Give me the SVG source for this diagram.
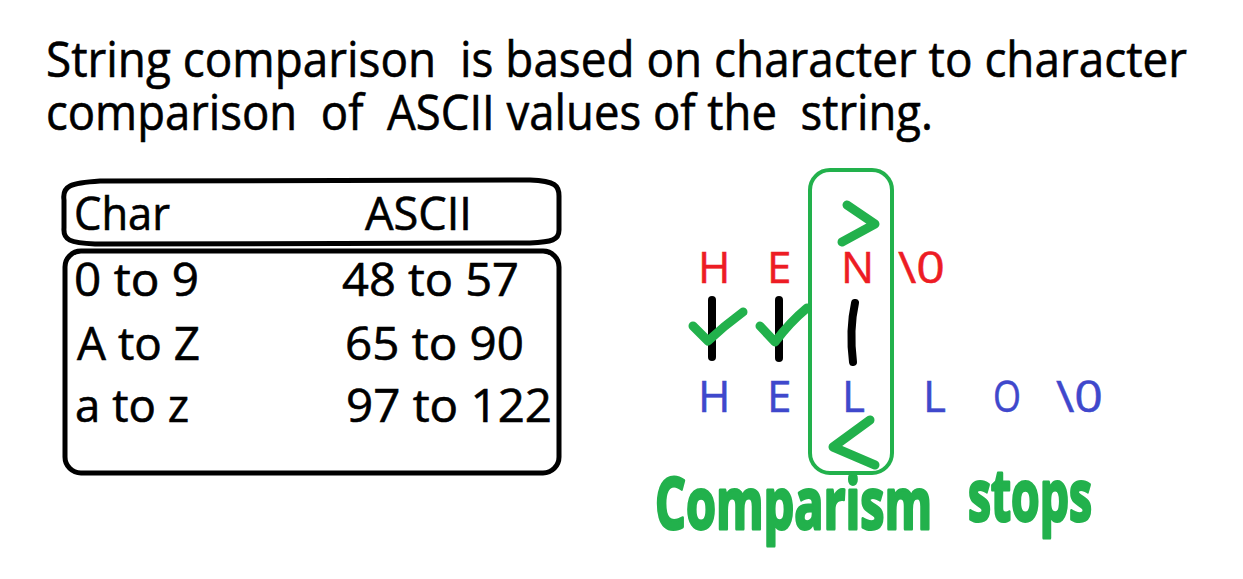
<svg xmlns="http://www.w3.org/2000/svg" width="1243" height="579" viewBox="0 0 1243 579">
  <style>
    .t { font-family: "Open Sans", "Liberation Sans", sans-serif; fill: #000; stroke: #000; stroke-width: 0.6; }
    .title { font-size: 49px; }
    .cell { font-size: 45px; }
    .ch { font-family: "Open Sans", "Liberation Sans", sans-serif; font-size: 44px; stroke-width: 0.5; }
    .red { fill: #ed1c24; stroke: #ed1c24; }
    .blue { fill: #3f48cc; stroke: #3f48cc; }
    .box { fill: none; stroke: #000; stroke-width: 5; stroke-linejoin: round; }
    .bar { fill: none; stroke: #000; stroke-width: 8; stroke-linecap: round; }
    .pen { fill: none; stroke: #22b14c; stroke-width: 9; stroke-linecap: round; stroke-linejoin: round; }
    .hand { font-family: "Open Sans", "Liberation Sans", sans-serif; font-weight: 700; font-size: 72px; fill: #22b14c; stroke: #22b14c; stroke-width: 3; stroke-linejoin: round; }
  </style>
  <rect width="1243" height="579" fill="#fff"/>

  <g id="title">
    <text class="t title" x="46" y="77" textLength="1141" lengthAdjust="spacingAndGlyphs" xml:space="preserve">String comparison  is based on character to character</text>
    <text class="t title" x="46" y="130" textLength="887" lengthAdjust="spacingAndGlyphs" xml:space="preserve">comparison  of  ASCII values of the  string.</text>
  </g>

  <g id="table-header">
    <path class="box" d="M 64 200 C 62 186 70 183 100 181 L 530 180 C 556 181 559 186 559 196 L 559 230 C 559 240 552 242 530 243 L 95 244 C 70 243 63 240 64 228 Z"/>
    <text class="t cell" x="74" y="230" textLength="96" lengthAdjust="spacingAndGlyphs">Char</text>
    <text class="t cell" x="365" y="230" textLength="107" lengthAdjust="spacingAndGlyphs">ASCII</text>
  </g>

  <g id="table-body">
    <rect class="box" x="65" y="251" width="494" height="222" rx="16"/>
    <text class="t cell" x="74" y="296" textLength="125" lengthAdjust="spacingAndGlyphs">0 to 9</text>
    <text class="t cell" x="77" y="360" textLength="123" lengthAdjust="spacingAndGlyphs">A to Z</text>
    <text class="t cell" x="75" y="422" textLength="114" lengthAdjust="spacingAndGlyphs">a to z</text>
    <text class="t cell" x="342" y="296" textLength="177" lengthAdjust="spacingAndGlyphs">48 to 57</text>
    <text class="t cell" x="345" y="360" textLength="179" lengthAdjust="spacingAndGlyphs">65 to 90</text>
    <text class="t cell" x="346" y="422" textLength="206" lengthAdjust="spacingAndGlyphs">97 to 122</text>
  </g>

  <g id="string-hen">
    <text class="ch red" x="698" y="283">H</text>
    <text class="ch red" x="767" y="283">E</text>
    <text class="ch red" x="841" y="283">N</text>
    <text class="ch red" x="898" y="283" textLength="47" lengthAdjust="spacingAndGlyphs">\0</text>
  </g>

  <g id="string-hello">
    <text class="ch blue" x="698" y="412">H</text>
    <text class="ch blue" x="767" y="412">E</text>
    <text class="ch blue" x="842" y="412">L</text>
    <text class="ch blue" x="923" y="412">L</text>
    <text class="ch blue" x="993" y="412" textLength="28" lengthAdjust="spacingAndGlyphs">O</text>
    <text class="ch blue" x="1056" y="412" textLength="47" lengthAdjust="spacingAndGlyphs">\0</text>
  </g>

  <g id="comparison-box">
    <rect x="810" y="170" width="82" height="303" rx="20" fill="none" stroke="#22b14c" stroke-width="4"/>
  </g>

  <g id="connectors">
    <path class="bar" d="M 712 300 L 712 357"/>
    <path class="bar" d="M 779 300 L 779 358"/>
    <path class="bar" d="M 855 303 Q 849 330 853 362"/>
    <path class="pen" d="M 693 326 L 708 341 Q 724 326 743 312"/>
    <path class="pen" d="M 760 326 L 775 342 Q 790 322 807 308"/>
    <path class="pen" d="M 847 205 L 875 224 L 842 242"/>
    <path class="pen" d="M 870 420 L 833 447 L 875 465"/>
  </g>

  <g id="label">
    <text class="hand" x="655" y="529" textLength="277" lengthAdjust="spacingAndGlyphs">Comparism</text>
    <text class="hand" x="968" y="521" textLength="124" lengthAdjust="spacingAndGlyphs">stops</text>
  </g>
</svg>
